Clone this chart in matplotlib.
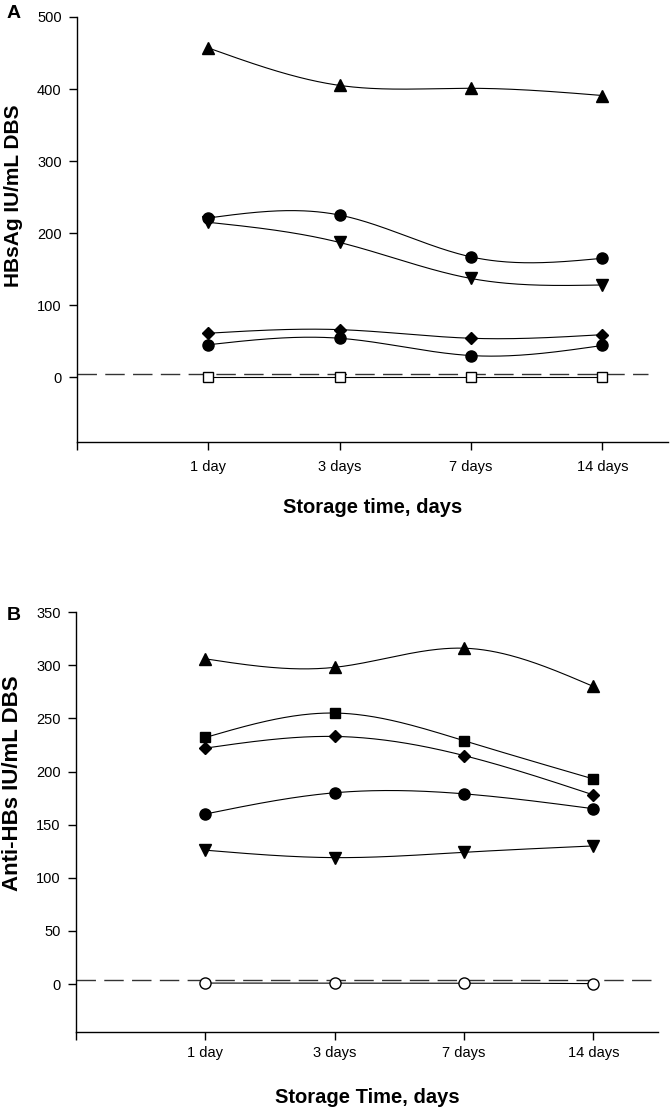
import numpy as np
import matplotlib.pyplot as plt

plt.rcParams['font.family'] = ['Liberation Sans', 'DejaVu Sans']

# categories
days = ['1 day', '3 days', '7 days', '14 days']
xpos = np.arange(1, len(days) + 1)

# Panel A: HBsAg IU/mL DBS
a_tri_up = [457, 405, 401, 391]
a_circle1 = [221, 225, 167, 165]
a_tri_down = [215, 187, 137, 128]
a_diamond = [61, 66, 54, 59]
a_circle2 = [45, 54, 30, 44]
a_square_open = [0, 0, 0, 0]
a_cutoff = 4

# Panel B: Anti-HBs IU/mL DBS
b_tri_up = [306, 298, 316, 280]
b_square = [232, 255, 229, 193]
b_diamond = [222, 233, 215, 178]
b_circle = [160, 180, 179, 165]
b_tri_down = [126, 119, 124, 130]
b_circle_open = [1, 1, 1, 0.5]
b_cutoff = 4


def spline(x, y, n=60):
    # natural cubic spline, just for drawing the smooth connecting line
    x = np.asarray(x, float)
    y = np.asarray(y, float)
    k = len(x)
    h = np.diff(x)
    A = np.zeros((k, k))
    r = np.zeros(k)
    A[0, 0] = A[-1, -1] = 1
    for i in range(1, k - 1):
        A[i, i - 1] = h[i - 1]
        A[i, i] = 2 * (h[i - 1] + h[i])
        A[i, i + 1] = h[i]
        r[i] = 6 * ((y[i + 1] - y[i]) / h[i] - (y[i] - y[i - 1]) / h[i - 1])
    M = np.linalg.solve(A, r)
    xs, ys = [], []
    for i in range(k - 1):
        t = np.linspace(x[i], x[i + 1], n)
        a = (x[i + 1] - t) / h[i]
        b = (t - x[i]) / h[i]
        s = a * y[i] + b * y[i + 1] + ((a ** 3 - a) * M[i] + (b ** 3 - b) * M[i + 1]) * h[i] ** 2 / 6
        xs.append(t)
        ys.append(s)
    return np.concatenate(xs), np.concatenate(ys)


def draw(ax, y, marker, ms, mfc='black'):
    sx, sy = spline(xpos, y)
    ax.plot(sx, sy, color='black', lw=0.8, zorder=2)
    ax.plot(xpos, y, ls='none', marker=marker, ms=ms, mfc=mfc, mec='black',
            mew=1.0, zorder=3)


def style(ax, ylim, yticks, cutoff, dash_end, xpad):
    ax.set_xlim(0, 4.5)
    ax.set_ylim(*ylim)
    ax.set_yticks(yticks)
    ax.set_xticks([0] + list(xpos))
    ax.set_xticklabels([''] + days)
    ax.axhline(cutoff, xmin=0, xmax=dash_end / 4.5, color='#333333', lw=1.0,
               dashes=(14, 6), zorder=1)
    for s in ['top', 'right']:
        ax.spines[s].set_visible(False)
    for s in ['left', 'bottom']:
        ax.spines[s].set_linewidth(1.0)
    ax.tick_params(direction='out', length=6, width=1.0, labelsize=10.5)
    ax.tick_params(axis='y', pad=5)
    ax.tick_params(axis='x', pad=xpad)


fig = plt.figure(figsize=(6.72, 11.10), dpi=100)

axA = fig.add_axes([0.1146, 0.6018, 0.8794, 0.3829])
draw(axA, a_tri_up, '^', 8)
draw(axA, a_circle1, 'o', 8)
draw(axA, a_tri_down, 'v', 8)
draw(axA, a_diamond, 'D', 6.5)
draw(axA, a_circle2, 'o', 8)
draw(axA, a_square_open, 's', 7.5, mfc='white')
style(axA, (-90, 500), np.arange(0, 501, 100), a_cutoff, 4.35, 7)
axA.set_xlabel('Storage time, days', fontsize=14.5, fontweight='bold', labelpad=17)
axA.set_ylabel('HBsAg IU/mL DBS', fontsize=15, fontweight='bold')
axA.yaxis.set_label_coords(-0.091, 0.579)
fig.text(14 / 672, 1 - 13 / 1110, 'A', fontsize=14, fontweight='bold',
         ha='center', va='center')

axB = fig.add_axes([0.1131, 0.0703, 0.8661, 0.3783])
draw(axB, b_tri_up, '^', 8)
draw(axB, b_square, 's', 7.5)
draw(axB, b_diamond, 'D', 6.5)
draw(axB, b_circle, 'o', 8)
draw(axB, b_tri_down, 'v', 8)
draw(axB, b_circle_open, 'o', 8, mfc='white')
style(axB, (-45, 350), np.arange(0, 351, 50), b_cutoff, 4.5, 4)
axB.set_xlabel('Storage Time, days', fontsize=14.5, fontweight='bold', labelpad=20)
axB.set_ylabel('Anti-HBs IU/mL DBS', fontsize=16, fontweight='bold')
axB.yaxis.set_label_coords(-0.091, 0.593)
fig.text(14 / 672, 1 - 615 / 1110, 'B', fontsize=14, fontweight='bold',
         ha='center', va='center')

fig.savefig('out.png', dpi=100)
